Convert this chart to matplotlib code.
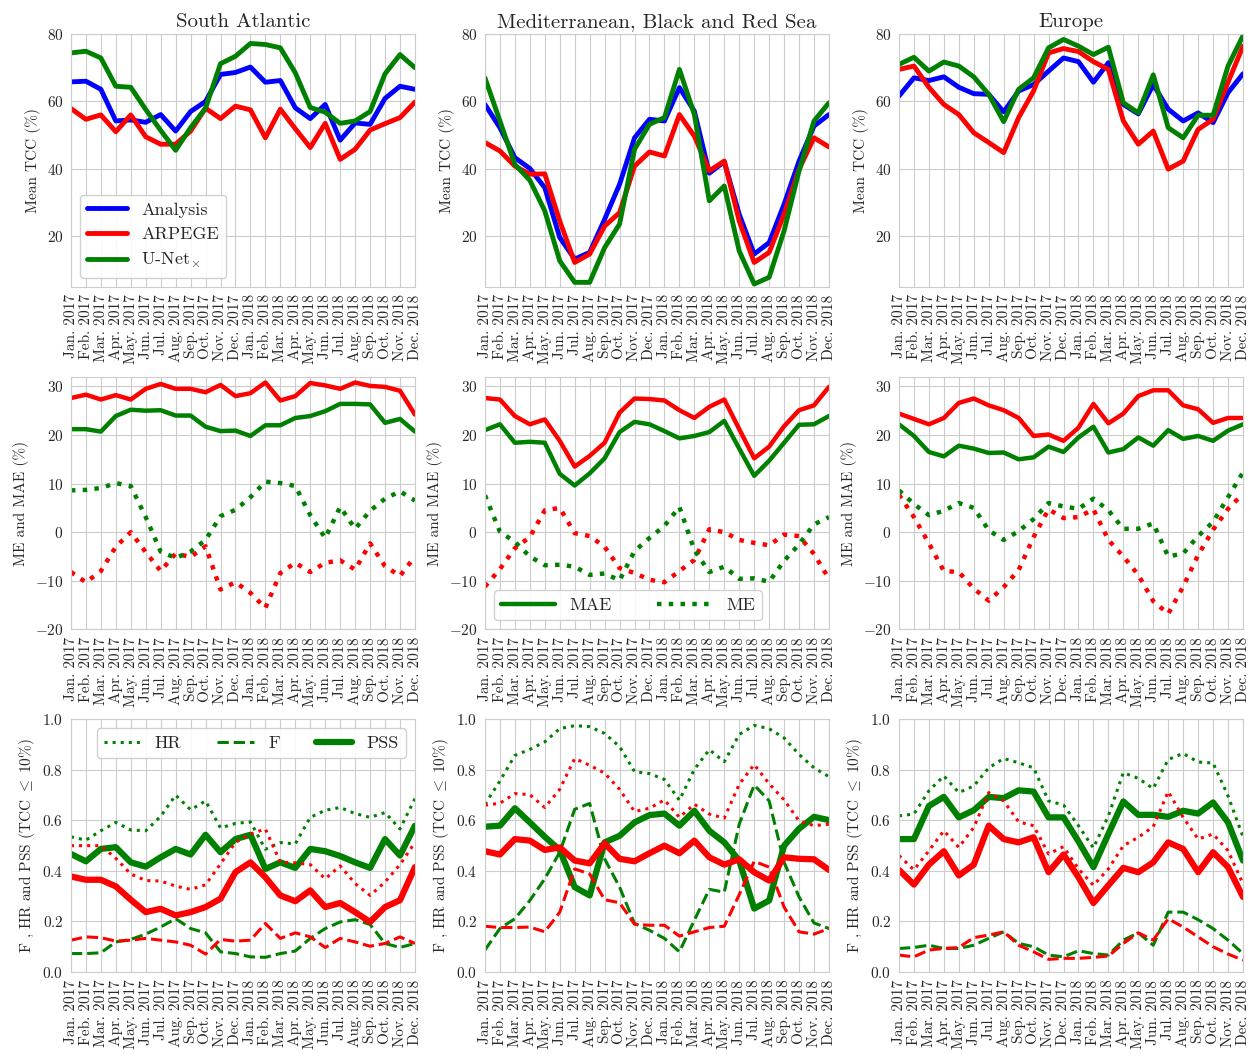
import matplotlib
matplotlib.use('Agg')
import matplotlib.pyplot as plt
import seaborn as sns

sns.set_style('whitegrid')
plt.rcParams['font.family'] = ['cmr10', 'DejaVu Serif']
plt.rcParams['mathtext.fontset'] = 'cm'
plt.rcParams['axes.formatter.use_mathtext'] = True
plt.rcParams['axes.unicode_minus'] = True

months = ['Jan.', 'Feb.', 'Mar.', 'Apr.', 'May.', 'Jun.', 'Jul.', 'Aug.', 'Sep.', 'Oct.', 'Nov.', 'Dec.']
years = ['2017', '2018']
tick_labels = [m + ' ' + y for y in years for m in months]
x = list(range(len(tick_labels)))

regions = ['South Atlantic', 'Mediterranean, Black and Red Sea', 'Europe']

# mean TCC (%)
analysis_sa = [65.8, 66.0, 63.6, 54.2, 54.5, 53.8, 56.1, 51.2, 57.0, 60.0, 68.0, 68.6,
               70.2, 65.7, 66.2, 58.1, 54.9, 59.1, 48.5, 53.6, 53.2, 60.9, 64.5, 63.6]
arpege_sa = [57.9, 54.7, 56.0, 51.0, 56.0, 49.5, 47.3, 47.3, 51.2, 58.0, 54.9, 58.6,
             57.5, 49.2, 57.7, 51.9, 46.3, 53.5, 42.8, 45.8, 51.5, 53.4, 55.2, 59.8]
unet_sa = [74.4, 74.9, 72.9, 64.5, 64.2, 57.6, 51.4, 45.5, 52.2, 58.0, 71.2, 73.4,
           77.2, 76.9, 75.9, 68.5, 58.2, 56.8, 53.5, 54.2, 57.0, 68.2, 73.9, 70.0]

analysis_med = [59.1, 52.2, 43.3, 40.1, 34.4, 19.6, 13.2, 15.2, 25.0, 35.4, 49.2, 54.7,
                54.2, 64.1, 57.1, 38.7, 42.1, 26.5, 14.7, 18.1, 29.5, 42.3, 52.7, 56.1]
arpege_med = [47.8, 45.3, 40.8, 38.4, 38.5, 24.5, 12.2, 14.7, 23.0, 27.0, 40.8, 45.0,
              43.8, 56.1, 49.7, 39.4, 42.3, 24.5, 12.2, 15.2, 26.5, 39.9, 49.2, 46.5]
unet_med = [67.0, 54.2, 41.3, 36.6, 27.5, 12.7, 6.3, 6.3, 16.6, 23.6, 45.8, 53.2,
            55.2, 69.5, 56.1, 30.5, 34.9, 15.6, 5.8, 7.8, 21.6, 39.4, 54.2, 59.6]

analysis_eu = [61.6, 67.0, 66.2, 67.3, 64.2, 62.3, 62.1, 56.9, 63.1, 65.0, 69.0, 72.9,
               71.8, 65.7, 71.5, 59.1, 56.3, 65.0, 57.7, 54.2, 56.6, 53.7, 62.6, 68.2]
arpege_eu = [69.5, 70.5, 64.2, 59.1, 56.1, 50.7, 47.8, 44.8, 55.2, 63.1, 74.4, 75.7,
             74.8, 71.8, 69.5, 54.2, 47.3, 51.2, 39.9, 42.3, 51.7, 54.7, 65.7, 76.4]
unet_eu = [71.0, 73.1, 69.0, 71.7, 70.5, 67.3, 62.1, 54.0, 63.6, 67.0, 75.9, 78.4,
           76.4, 73.9, 76.1, 59.6, 56.6, 67.9, 52.2, 49.2, 55.9, 55.9, 70.5, 79.5]

# MAE and ME (%)
mae_arpege_sa = [27.6, 28.3, 27.3, 28.2, 27.3, 29.5, 30.5, 29.5, 29.5, 28.8, 30.3, 28.0,
                 28.6, 30.8, 27.1, 28.0, 30.7, 30.2, 29.5, 30.8, 30.1, 29.9, 29.1, 24.2]
mae_unet_sa = [21.2, 21.2, 20.7, 23.9, 25.2, 25.0, 25.1, 24.0, 24.0, 21.7, 20.8, 20.9,
               19.8, 22.0, 22.0, 23.5, 23.9, 24.9, 26.4, 26.4, 26.3, 22.5, 23.3, 20.7]
me_arpege_sa = [-8.2, -10.3, -8.0, -3.0, 0.0, -4.1, -8.0, -4.4, -5.1, -2.9, -11.8, -10.3,
                -12.5, -15.6, -8.4, -6.3, -8.2, -6.3, -5.8, -7.7, -2.3, -7.0, -9.0, -5.0]
me_unet_sa = [8.6, 8.7, 9.1, 10.1, 9.5, 3.1, -4.0, -5.3, -4.0, -1.6, 3.3, 4.6,
              7.2, 10.4, 10.1, 9.5, 3.5, -1.2, 5.2, 0.7, 4.4, 6.9, 8.4, 6.5]

mae_arpege_med = [27.6, 27.3, 23.9, 22.2, 23.2, 18.8, 13.5, 15.7, 18.4, 24.6, 27.5, 27.4,
                  27.1, 25.1, 23.5, 25.8, 27.3, 21.2, 15.2, 17.6, 21.8, 25.1, 26.1, 29.9]
mae_unet_med = [21.0, 22.2, 18.4, 18.6, 18.4, 12.0, 9.6, 12.1, 15.2, 20.6, 22.7, 22.2,
                20.8, 19.3, 19.8, 20.6, 22.9, 17.2, 11.6, 14.7, 18.4, 22.1, 22.2, 23.9]
me_arpege_med = [-11.2, -7.6, -3.3, -1.0, 4.5, 5.0, -0.2, -0.8, -3.0, -7.4, -8.4, -9.8,
                 -10.3, -8.0, -5.7, 0.6, 0.0, -1.6, -2.2, -2.7, -0.5, -0.8, -4.5, -9.6]
me_unet_med = [7.6, 0.1, -2.0, -5.0, -6.8, -6.7, -7.1, -8.8, -8.5, -9.9, -3.9, -1.2,
               1.3, 5.2, -3.7, -8.2, -7.1, -9.6, -9.5, -10.2, -5.9, -2.5, 1.6, 3.1]

mae_arpege_eu = [24.4, 23.3, 22.2, 23.5, 26.6, 27.5, 26.1, 25.1, 23.5, 19.8, 20.1, 18.8,
                 21.5, 26.4, 22.4, 24.4, 28.0, 29.2, 29.2, 26.1, 25.3, 22.5, 23.5, 23.5]
mae_unet_eu = [22.2, 19.8, 16.5, 15.6, 17.8, 17.2, 16.3, 16.4, 15.0, 15.4, 17.6, 16.5,
               19.5, 21.7, 16.4, 17.1, 19.5, 17.8, 21.0, 19.2, 19.8, 18.8, 20.9, 22.2]
me_arpege_eu = [7.7, 3.1, -2.3, -8.0, -8.2, -11.6, -14.1, -11.3, -7.8, -1.0, 4.7, 2.9,
                3.1, 4.7, -1.6, -5.0, -8.8, -14.2, -16.8, -11.2, -4.7, 0.5, 4.8, 7.9]
me_unet_eu = [8.6, 5.8, 3.5, 4.4, 6.0, 5.0, 0.4, -1.6, 0.2, 2.7, 6.0, 5.3,
              4.8, 6.9, 4.5, 0.7, 0.7, 1.8, -5.0, -4.4, -0.8, 2.1, 7.2, 12.3]

# scores for TCC <= 10 %
pss_arpege_sa = [0.378, 0.365, 0.365, 0.339, 0.286, 0.237, 0.250, 0.224, 0.237, 0.257, 0.290, 0.395,
                 0.434, 0.375, 0.303, 0.280, 0.323, 0.257, 0.273, 0.237, 0.198, 0.257, 0.284, 0.415]
pss_unet_sa = [0.467, 0.438, 0.487, 0.494, 0.434, 0.417, 0.454, 0.487, 0.465, 0.543, 0.474, 0.526,
               0.543, 0.408, 0.434, 0.412, 0.487, 0.478, 0.459, 0.434, 0.412, 0.526, 0.461, 0.579]
hr_arpege_sa = [0.500, 0.500, 0.500, 0.450, 0.388, 0.362, 0.360, 0.340, 0.327, 0.345, 0.428, 0.513,
                0.546, 0.566, 0.434, 0.432, 0.425, 0.369, 0.420, 0.350, 0.303, 0.356, 0.425, 0.513]
hr_unet_sa = [0.535, 0.522, 0.559, 0.592, 0.562, 0.559, 0.616, 0.700, 0.642, 0.677, 0.570, 0.588,
              0.594, 0.486, 0.512, 0.507, 0.612, 0.640, 0.651, 0.627, 0.612, 0.631, 0.566, 0.686]
f_arpege_sa = [0.126, 0.139, 0.136, 0.122, 0.126, 0.133, 0.126, 0.119, 0.106, 0.071, 0.129, 0.122,
               0.126, 0.192, 0.133, 0.155, 0.139, 0.097, 0.133, 0.119, 0.102, 0.113, 0.139, 0.113]
f_unet_sa = [0.073, 0.073, 0.076, 0.119, 0.129, 0.150, 0.178, 0.211, 0.172, 0.155, 0.080, 0.073,
             0.060, 0.058, 0.073, 0.083, 0.133, 0.172, 0.198, 0.207, 0.188, 0.113, 0.097, 0.113]

pss_arpege_med = [0.478, 0.465, 0.526, 0.520, 0.483, 0.493, 0.441, 0.430, 0.509, 0.448, 0.438, 0.470,
                  0.500, 0.470, 0.520, 0.454, 0.425, 0.446, 0.395, 0.362, 0.454, 0.448, 0.446, 0.404]
pss_unet_med = [0.575, 0.579, 0.648, 0.592, 0.535, 0.483, 0.336, 0.303, 0.513, 0.539, 0.592, 0.621,
                0.627, 0.579, 0.638, 0.559, 0.513, 0.441, 0.251, 0.283, 0.500, 0.567, 0.614, 0.601]
hr_arpege_med = [0.660, 0.668, 0.706, 0.702, 0.651, 0.723, 0.845, 0.818, 0.787, 0.723, 0.635, 0.648,
                 0.681, 0.612, 0.664, 0.625, 0.609, 0.743, 0.821, 0.745, 0.681, 0.598, 0.579, 0.585]
hr_unet_med = [0.664, 0.756, 0.857, 0.881, 0.911, 0.963, 0.975, 0.971, 0.944, 0.892, 0.793, 0.785,
               0.762, 0.680, 0.802, 0.880, 0.832, 0.940, 0.976, 0.963, 0.926, 0.861, 0.808, 0.773]
f_arpege_med = [0.181, 0.176, 0.176, 0.178, 0.159, 0.237, 0.408, 0.388, 0.286, 0.274, 0.189, 0.185,
                0.185, 0.142, 0.159, 0.176, 0.181, 0.306, 0.438, 0.415, 0.257, 0.159, 0.150, 0.172]
f_unet_med = [0.087, 0.172, 0.211, 0.283, 0.369, 0.474, 0.644, 0.667, 0.448, 0.336, 0.192, 0.165,
              0.133, 0.080, 0.205, 0.327, 0.316, 0.585, 0.740, 0.677, 0.434, 0.297, 0.194, 0.172]

pss_arpege_eu = [0.404, 0.346, 0.425, 0.478, 0.382, 0.425, 0.579, 0.526, 0.513, 0.533, 0.395, 0.465,
                 0.375, 0.273, 0.343, 0.412, 0.395, 0.434, 0.513, 0.487, 0.395, 0.474, 0.415, 0.297]
pss_unet_eu = [0.526, 0.526, 0.657, 0.693, 0.612, 0.640, 0.693, 0.688, 0.719, 0.714, 0.612, 0.612,
               0.517, 0.415, 0.546, 0.675, 0.622, 0.622, 0.614, 0.638, 0.627, 0.671, 0.592, 0.441]
hr_arpege_eu = [0.461, 0.404, 0.480, 0.559, 0.493, 0.572, 0.710, 0.677, 0.594, 0.579, 0.467, 0.496,
                0.408, 0.343, 0.408, 0.500, 0.533, 0.575, 0.714, 0.612, 0.526, 0.546, 0.480, 0.349]
hr_unet_eu = [0.618, 0.625, 0.717, 0.776, 0.710, 0.736, 0.808, 0.845, 0.828, 0.808, 0.677, 0.661,
              0.579, 0.491, 0.618, 0.789, 0.766, 0.726, 0.841, 0.865, 0.831, 0.827, 0.697, 0.535]
f_arpege_eu = [0.067, 0.060, 0.087, 0.093, 0.097, 0.136, 0.146, 0.159, 0.106, 0.080, 0.050, 0.054,
               0.054, 0.058, 0.063, 0.113, 0.155, 0.126, 0.211, 0.178, 0.139, 0.100, 0.071, 0.047]
f_unet_eu = [0.093, 0.097, 0.106, 0.093, 0.093, 0.106, 0.133, 0.159, 0.113, 0.100, 0.067, 0.060,
             0.084, 0.073, 0.067, 0.126, 0.155, 0.106, 0.237, 0.237, 0.207, 0.172, 0.126, 0.073]

tcc = [(analysis_sa, arpege_sa, unet_sa), (analysis_med, arpege_med, unet_med), (analysis_eu, arpege_eu, unet_eu)]
errors = [(mae_arpege_sa, mae_unet_sa, me_arpege_sa, me_unet_sa),
          (mae_arpege_med, mae_unet_med, me_arpege_med, me_unet_med),
          (mae_arpege_eu, mae_unet_eu, me_arpege_eu, me_unet_eu)]
scores = [(pss_arpege_sa, pss_unet_sa, hr_arpege_sa, hr_unet_sa, f_arpege_sa, f_unet_sa),
          (pss_arpege_med, pss_unet_med, hr_arpege_med, hr_unet_med, f_arpege_med, f_unet_med),
          (pss_arpege_eu, pss_unet_eu, hr_arpege_eu, hr_unet_eu, f_arpege_eu, f_unet_eu)]

fig, axes = plt.subplots(3, 3, figsize=(12.6, 10.54), dpi=100)
fig.subplots_adjust(left=0.0563, right=0.9865, top=0.9677, bottom=0.0778, wspace=0.2035, hspace=0.356)

leg_style = dict(fontsize=13, frameon=True, edgecolor='0.8', framealpha=0.9, fancybox=True)

for j in range(3):
    # row 1 : mean TCC
    ax = axes[0, j]
    an, ar, un = tcc[j]
    ax.plot(x, an, color='blue', lw=3.5, label='Analysis')
    ax.plot(x, ar, color='red', lw=3.5, label='ARPEGE')
    ax.plot(x, un, color='green', lw=3.5, label=r'U-Net$_{\!\times}$')
    ax.set_ylim(5, 80)
    ax.set_yticks([20, 40, 60, 80])
    ax.set_ylabel('Mean TCC (%)', fontsize=11)
    ax.set_title(regions[j], fontsize=15, pad=5)
    if j == 0:
        ax.legend(loc='lower left', handlelength=2.2, **leg_style)

    # row 2 : MAE and ME
    ax = axes[1, j]
    mae_ar, mae_un, me_ar, me_un = errors[j]
    ax.plot(x, mae_ar, color='red', lw=3.2)
    ax.plot(x, mae_un, color='green', lw=3.2, label='MAE')
    ax.plot(x, me_ar, color='red', lw=3.2, ls=':')
    ax.plot(x, me_un, color='green', lw=3.2, ls=':', label='ME')
    ax.set_ylim(-20, 32)
    ax.set_yticks([-20, -10, 0, 10, 20, 30])
    ax.set_ylabel('ME and MAE (%)', fontsize=11)
    if j == 1:
        ax.legend(loc='lower left', ncol=2, handlelength=3, columnspacing=2.5, **leg_style)

    # row 3 : PSS, HR and F
    ax = axes[2, j]
    pss_ar, pss_un, hr_ar, hr_un, f_ar, f_un = scores[j]
    ax.plot(x, hr_un, color='green', lw=2.2, ls=':', label='HR')
    ax.plot(x, f_un, color='green', lw=2.2, ls='--', label='F')
    ax.plot(x, pss_un, color='green', lw=4.5, label='PSS')
    ax.plot(x, hr_ar, color='red', lw=2.2, ls=':')
    ax.plot(x, f_ar, color='red', lw=2.2, ls='--')
    ax.plot(x, pss_ar, color='red', lw=4.5)
    ax.set_ylim(0, 1)
    ax.set_yticks([0.0, 0.2, 0.4, 0.6, 0.8, 1.0])
    ax.set_ylabel(r'F , HR and PSS (TCC $\leq\ 10\%$)', fontsize=11)
    if j == 0:
        ax.legend(loc='upper right', ncol=3, handlelength=2.0, columnspacing=2.0, **leg_style)

for ax in axes.flat:
    ax.set_xlim(0, 23)
    ax.set_xticks(x)
    ax.set_xticklabels(tick_labels, rotation=90, fontsize=11)
    ax.tick_params(axis='y', labelsize=11)
    ax.tick_params(axis='both', pad=2)

plt.savefig('out.png', dpi=100)
